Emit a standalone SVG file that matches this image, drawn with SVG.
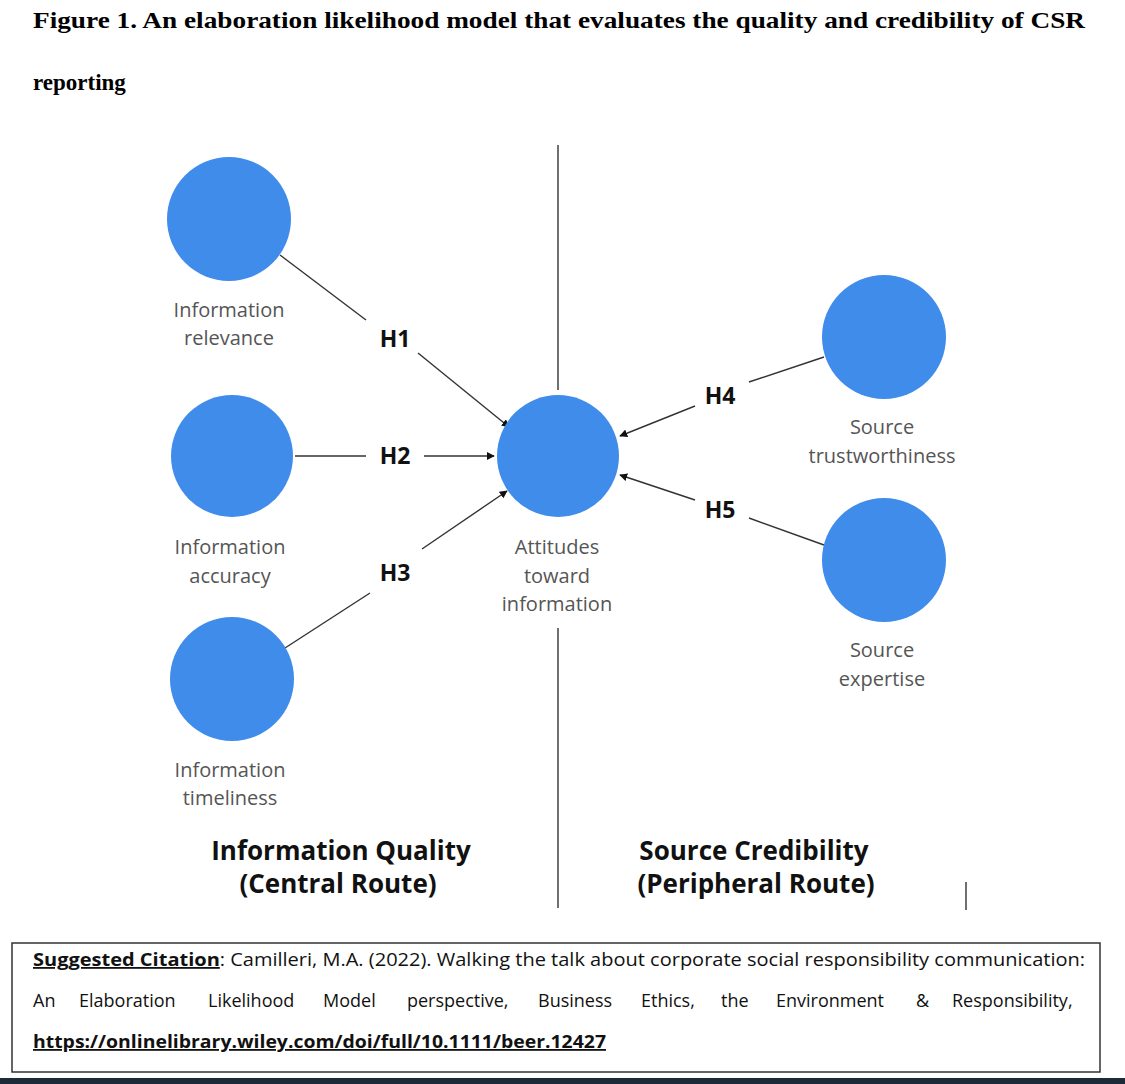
<svg xmlns="http://www.w3.org/2000/svg" width="1125" height="1084" viewBox="0 0 1125 1084">
<style>
.n{fill:#3f8ceb}
.c{stroke:#333;stroke-width:1.4;fill:none}
.lb{font-family:"Open Sans","Liberation Sans",sans-serif;font-size:20px;fill:#555;text-anchor:middle}
.h{font-family:"Open Sans","Liberation Sans",sans-serif;font-size:23px;font-weight:bold;fill:#111;text-anchor:middle}
.r{font-family:"Open Sans","Liberation Sans",sans-serif;font-size:26px;font-weight:bold;fill:#111;text-anchor:middle}
.t{font-family:"Liberation Serif",serif;font-size:23px;font-weight:bold;fill:#000}
.ci{font-family:"Open Sans","Liberation Sans",sans-serif;font-size:18px;fill:#111}
</style>
<defs><marker id="a" viewBox="0 0 10 10" refX="9" refY="5" markerWidth="8" markerHeight="8" orient="auto" markerUnits="userSpaceOnUse"><path d="M0,0L10,5L0,10z" fill="#111"/></marker></defs>
<rect width="1125" height="1084" fill="#fff"/>
<text class="t" x="33" y="28" textLength="1052" lengthAdjust="spacingAndGlyphs">Figure 1. An elaboration likelihood model that evaluates the quality and credibility of CSR</text>
<text class="t" x="33" y="90">reporting</text>
<line x1="558" y1="145" x2="558" y2="390" class="c"/>
<line x1="558" y1="628" x2="558" y2="908" class="c"/>
<line x1="966" y1="882" x2="966" y2="910" class="c"/>
<g id="connectors">
<line class="c" x1="280" y1="255" x2="366" y2="320"/><line class="c" x1="418" y1="353" x2="509" y2="427" marker-end="url(#a)"/>
<line class="c" x1="295" y1="456" x2="366" y2="456"/><line class="c" x1="424" y1="456" x2="494" y2="456" marker-end="url(#a)"/>
<line class="c" x1="285" y1="648" x2="370" y2="593"/><line class="c" x1="422" y1="549" x2="507" y2="491" marker-end="url(#a)"/>
<line class="c" x1="749" y1="382" x2="824" y2="357"/><line class="c" x1="695" y1="406" x2="620" y2="436" marker-end="url(#a)"/>
<line class="c" x1="749" y1="518" x2="824" y2="545"/><line class="c" x1="695" y1="500" x2="620" y2="475" marker-end="url(#a)"/>
<text class="h" x="395" y="347">H1</text>
<text class="h" x="395" y="464">H2</text>
<text class="h" x="395" y="581">H3</text>
<text class="h" x="720" y="404">H4</text>
<text class="h" x="720" y="518">H5</text>
</g>
<g id="relevance"><circle class="n" cx="229" cy="219" r="62"/><text class="lb" x="229" y="317">Information</text><text class="lb" x="229" y="345">relevance</text></g>
<g id="accuracy"><circle class="n" cx="232" cy="456" r="61"/><text class="lb" x="230" y="554">Information</text><text class="lb" x="230" y="583">accuracy</text></g>
<g id="timeliness"><circle class="n" cx="232" cy="679" r="62"/><text class="lb" x="230" y="777">Information</text><text class="lb" x="230" y="805">timeliness</text></g>
<g id="attitudes"><circle class="n" cx="558" cy="456" r="61"/><text class="lb" x="557" y="554">Attitudes</text><text class="lb" x="557" y="583">toward</text><text class="lb" x="557" y="611">information</text></g>
<g id="trust"><circle class="n" cx="884" cy="337" r="62"/><text class="lb" x="882" y="434">Source</text><text class="lb" x="882" y="463">trustworthiness</text></g>
<g id="expertise"><circle class="n" cx="884" cy="560" r="62"/><text class="lb" x="882" y="657">Source</text><text class="lb" x="882" y="686">expertise</text></g>
<text class="r" x="341" y="860">Information Quality</text>
<text class="r" x="338" y="893">(Central Route)</text>
<text class="r" x="754" y="860">Source Credibility</text>
<text class="r" x="756" y="893">(Peripheral Route)</text>
<rect x="12" y="943" width="1088" height="129" fill="none" stroke="#333" stroke-width="1.5"/>
<text class="ci" x="33" y="966" textLength="1052" lengthAdjust="spacingAndGlyphs"><tspan font-weight="bold" text-decoration="underline">Suggested Citation</tspan>: Camilleri, M.A. (2022). Walking the talk about corporate social responsibility communication:</text>
<text class="ci" y="1007"><tspan x="33">An</tspan><tspan x="79">Elaboration</tspan><tspan x="208">Likelihood</tspan><tspan x="323">Model</tspan><tspan x="407">perspective,</tspan><tspan x="538">Business</tspan><tspan x="641">Ethics,</tspan><tspan x="721">the</tspan><tspan x="776">Environment</tspan><tspan x="916">&amp;</tspan><tspan x="952">Responsibility,</tspan></text>
<text class="ci" x="33" y="1048" font-weight="bold" fill="#1a1aa8" text-decoration="underline" textLength="573" lengthAdjust="spacingAndGlyphs">https://onlinelibrary.wiley.com/doi/full/10.1111/beer.12427</text>
<rect x="0" y="1078" width="1125" height="6" fill="#1c2a3a"/>
</svg>
